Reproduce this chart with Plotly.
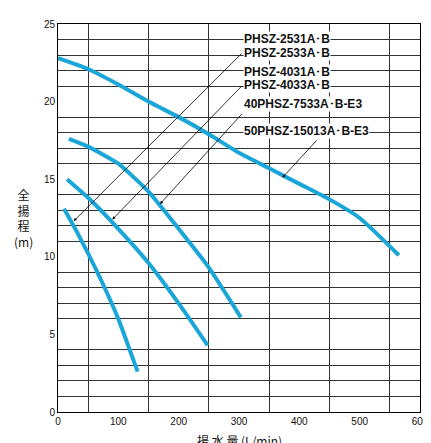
import plotly.graph_objects as go

c1_x = [0, 50, 100, 150, 200, 250, 300, 350, 400, 450, 500, 565]
c1_y = [22.8, 22.1, 21.1, 20.0, 19.0, 17.9, 16.7, 15.7, 14.7, 13.7, 12.5, 10.1]
c2_x = [18, 50, 100, 150, 200, 250, 303]
c2_y = [17.6, 17.1, 16.0, 14.2, 11.8, 9.3, 6.1]
c3_x = [15, 50, 100, 150, 200, 248]
c3_y = [15.0, 13.8, 11.8, 9.6, 7.0, 4.3]
c4_x = [10, 30, 50, 75, 100, 132]
c4_y = [13.1, 11.7, 10.2, 8.2, 6.0, 2.6]
labels = ["PHSZ-2531A･B", "PHSZ-2533A･B", "PHSZ-4031A･B", "PHSZ-4033A･B",
          "40PHSZ-7533A･B-E3", "50PHSZ-15013A･B-E3"]
label_y = [24.05, 23.16, 21.9, 21.1, 19.86, 18.08]
leaders = [((307, 23.2), (26, 12.3)), ((307, 21.1), (90, 12.4)),
           ((307, 19.3), (169, 13.4)), ((431, 17.6), (372, 15.1))]

blue = "#1aa6d8"
fig = go.Figure()
for xs, ys in [(c1_x, c1_y), (c2_x, c2_y), (c3_x, c3_y), (c4_x, c4_y)]:
    fig.add_trace(go.Scatter(x=xs, y=ys, mode="lines",
                             line=dict(color=blue, width=4, shape="spline", smoothing=0.5),
                             showlegend=False, hoverinfo="skip"))

ann = []
for (sx, sy), (ex, ey) in leaders:
    ann.append(dict(x=ex, y=ey, ax=sx, ay=sy, xref="x", yref="y", axref="x", ayref="y",
                    text="", showarrow=True, arrowhead=2, arrowsize=0.8, arrowwidth=0.8,
                    arrowcolor="black"))
for t, y in zip(labels, label_y):
    ann.append(dict(x=307, y=y, xref="x", yref="y", text="<b>" + t + "</b>", showarrow=False,
                    xanchor="left", yanchor="middle", bgcolor="white", borderpad=0,
                    font=dict(family="Liberation Sans, Arial", size=12, color="#111")))
ann.append(dict(x=-0.095, y=0.5, xref="paper", yref="paper", text="全<br>揚<br>程<br>(m)",
                showarrow=False, xanchor="center",
                font=dict(family="Noto Sans CJK JP", size=12, color="#111")))
ann.append(dict(x=0.5, y=-0.074, xref="paper", yref="paper", text="揚 水 量 (L/min)",
                showarrow=False, yanchor="middle",
                font=dict(family="Noto Sans CJK JP", size=12, color="#111")))

fig.update_layout(
    width=431, height=443, margin=dict(l=50, r=15, t=10, b=39),
    plot_bgcolor="white", paper_bgcolor="white", annotations=ann,
    xaxis=dict(range=[0, 600], tick0=0, dtick=100, showgrid=False, zeroline=False,
               showline=True, linecolor="black", mirror=True, ticks="",
               tickfont=dict(family="Liberation Sans, Arial", size=10, color="#111"),
               minor=dict(dtick=50, showgrid=True, gridcolor="#333", gridwidth=1)),
    yaxis=dict(range=[0, 25], tick0=0, dtick=5, showgrid=False, zeroline=False,
               showline=True, linecolor="black", mirror=True, ticks="",
               tickfont=dict(family="Liberation Sans, Arial", size=10, color="#111"),
               minor=dict(dtick=1, showgrid=True, gridcolor="#333", gridwidth=1)),
)
fig.write_html("out.html")
